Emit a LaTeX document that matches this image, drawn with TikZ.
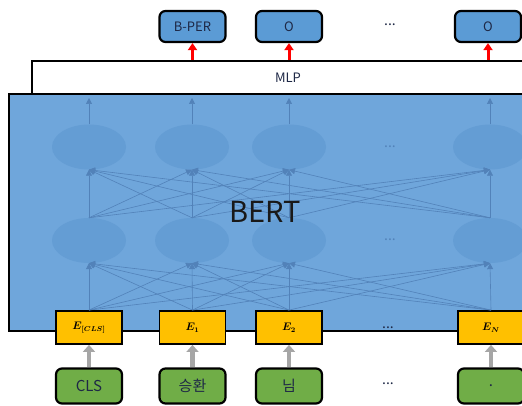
\documentclass[tikz,border=0pt]{standalone}
\usepackage{fontspec}
\setmainfont{Noto Sans CJK KR}
\usetikzlibrary{arrows.meta,shapes.geometric}
\definecolor{bertfill}{RGB}{111,166,219}
\definecolor{ellfill}{RGB}{100,157,212}
\definecolor{netline}{RGB}{82,130,185}
\definecolor{topfill}{RGB}{91,155,213}
\definecolor{embfill}{RGB}{255,192,0}
\definecolor{tokfill}{RGB}{112,173,71}
\definecolor{grayarrow}{RGB}{166,166,166}
\definecolor{labtext}{RGB}{30,40,70}
\tikzset{
  tagbox/.style={draw, line width=2.2pt, rounded corners=6pt, fill=topfill,
    minimum width=66pt, minimum height=31pt, inner sep=0pt, text=labtext,
    font=\fontsize{13}{15}\selectfont},
  tokbox/.style={draw, line width=2.2pt, rounded corners=6pt, fill=tokfill,
    minimum width=66pt, minimum height=35pt, inner sep=0pt, text=labtext,
    font=\fontsize{15}{17}\selectfont},
  embbox/.style={draw, line width=1.8pt, fill=embfill,
    minimum width=66pt, minimum height=33pt, inner sep=0pt,
    font=\fontsize{10.5}{12}\selectfont\boldmath},
  neuron/.style={ellipse, fill=ellfill, minimum width=74pt, minimum height=45pt, inner sep=0pt},
  netarrow/.style={draw=netline, line width=0.6pt, -{Triangle[width=6pt,length=6pt]}},
  redarrow/.style={draw=red, line width=3pt, -{Triangle[width=9pt,length=7pt]}},
  grayarr/.style={draw=grayarrow, line width=4.5pt, -{Triangle[width=12pt,length=7pt]}},
  dots/.style={font=\fontsize{14}{16}\selectfont, text=labtext},
}
\begin{document}
\begin{tikzpicture}[x=1pt,y=-1pt]
\clip (0,0) rectangle (522,406);
% MLP
\node[draw, line width=1.5pt, fill=white, minimum width=512pt, minimum height=34pt, inner sep=0pt,
  font=\fontsize{13}{15}\selectfont, text=labtext] (mlp) at (288,78) {MLP};
% BERT box
\node[draw, line width=2pt, fill=bertfill, minimum width=540pt, minimum height=237pt, inner sep=0pt]
  (bert) at (279,212.5) {};
% neurons
\foreach \n/\x in {1/89,2/192,3/289,4/490} {
  \node[neuron] (u\n) at (\x,147) {};
  \node[neuron] (l\n) at (\x,240.5) {};
  \coordinate (o\n) at (\x,98);
}
\node[dots, text=netline] (du) at (390,147) {...};
\node[dots, text=netline] (dl) at (390,240) {...};
% embeddings
\node[embbox] (e1) at (89,327.5) {$E_{[CLS]}$};
\node[embbox] (e2) at (192.5,327.5) {$E_1$};
\node[embbox] (e3) at (289,327.5) {$E_2$};
\node[embbox] (e4) at (491,327.5) {$E_N$};
% connections
\foreach \i in {1,...,4} {
  \draw[netarrow] (u\i.north) -- (o\i);
  \foreach \j in {1,...,4} {
    \draw[netarrow] (l\i.north) -- (u\j.south);
    \draw[netarrow] (e\i.north) -- (l\j.south);
  }
}
\node[font=\fontsize{29}{31}\selectfont, text=black!90] (berttext) at (265,212) {BERT};
% tokens
\node[tokbox] (t1) at (89,386) {CLS};
\node[tokbox] (t2) at (192.5,386) {승환};
\node[tokbox] (t3) at (289,386) {님};
\node[tokbox] (t4) at (491,386) {.};
\foreach \i in {1,...,4} { \draw[grayarr] (t\i.north) -- (e\i.south); }
\node[dots] (d1) at (388,384) {...};
\node[dots] (d2) at (388,328) {...};
% outputs
\node[tagbox] (y1) at (192.5,26.5) {B-PER};
\node[tagbox] (y2) at (289,26.5) {O};
\node[tagbox] (y3) at (488,26.5) {O};
\node[dots] (d3) at (390,25) {...};
\foreach \i in {1,2,3} { \draw[redarrow] (mlp.north -| y\i) -- (y\i.south); }
\end{tikzpicture}
\end{document}
